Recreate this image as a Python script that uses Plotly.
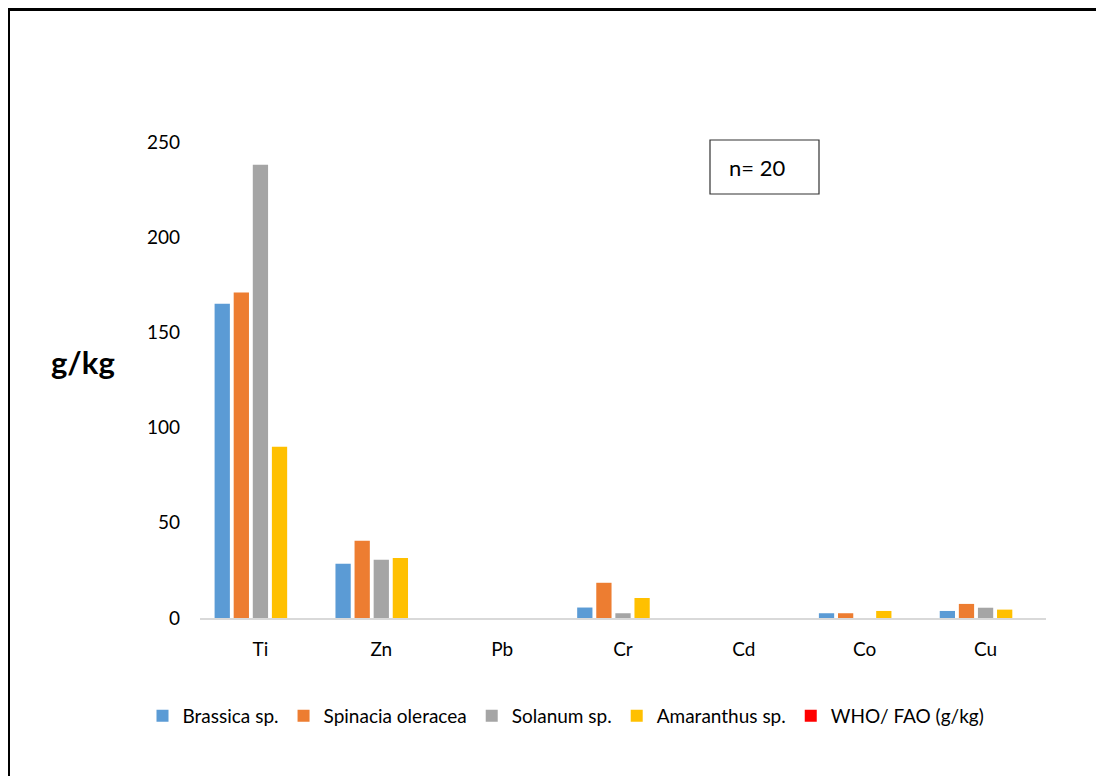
import plotly.graph_objects as go

categories = ["Ti", "Zn", "Pb", "Cr", "Cd", "Co", "Cu"]
brassica = [165, 28.5, 0, 5.5, 0, 2.5, 3.7]
spinacia = [171, 40.6, 0, 18.5, 0, 2.5, 7.4]
solanum = [238, 30.6, 0, 2.5, 0, 0, 5.4]
amaranthus = [90, 31.5, 0, 10.5, 0, 3.7, 4.4]
who_fao = [0, 0, 0, 0, 0, 0, 0]
y_ticks = [0, 50, 100, 150, 200, 250]

series = [
    ("Brassica sp.", brassica, "#5B9BD5"),
    ("Spinacia oleracea", spinacia, "#ED7D31"),
    ("Solanum sp.", solanum, "#A5A5A5"),
    ("Amaranthus sp.", amaranthus, "#FFC000"),
    ("WHO/ FAO (g/kg)", who_fao, "#FF0000"),
]

FONT = "Lato, Carlito, 'Liberation Sans', sans-serif"
OFF = 8  # page body offset

fig = go.Figure()
for name, vals, col in series:
    fig.add_trace(go.Bar(name=name, x=categories, y=vals, marker_color=col,
                         marker_line_width=0))

W, H = 1104, 776
L, R = 200 - OFF, W - (1046 - OFF)
T, B = 142 - OFF, H - (618 - OFF)
pw, ph = W - L - R, H - T - B

def px(x):
    return (x - OFF - L) / pw

def py(y):
    return (H - B - (y - OFF)) / ph

fig.update_layout(
    width=W, height=H,
    margin=dict(l=L, r=R, t=T, b=B),
    paper_bgcolor="white", plot_bgcolor="white",
    barmode="group", bargap=0.21, bargroupgap=0.2,
    font=dict(family=FONT, size=19, color="#000000"),
    showlegend=True,
    legend=dict(orientation="h", xref="container", yref="container",
                x=(566 - OFF) / W, xanchor="center",
                y=(H - (716 - OFF)) / H, yanchor="middle",
                font=dict(size=19, family=FONT), itemsizing="constant",
                traceorder="normal", itemwidth=30),
    xaxis=dict(showline=True, linecolor="#D9D9D9", linewidth=1.5, showgrid=False,
               ticks="", ticklabelstandoff=13, tickfont=dict(size=19)),
    yaxis=dict(range=[0, 250], tickvals=y_ticks, showgrid=False, zeroline=False,
               showline=False, ticks="", ticklabelstandoff=19, tickfont=dict(size=19)),
    shapes=[
        dict(type="rect", xref="paper", yref="paper",
             x0=px(8.5), x1=px(1125), y0=py(800), y1=py(9.5),
             line=dict(color="black", width=3), fillcolor="rgba(0,0,0,0)"),
        dict(type="rect", xref="paper", yref="paper",
             x0=px(710), x1=px(819), y0=py(194), y1=py(140),
             line=dict(color="#333333", width=1.2), fillcolor="white"),
    ],
    annotations=[
        dict(text="<b>g/kg</b>", xref="paper", yref="paper", x=px(83), y=py(362),
             showarrow=False, font=dict(size=31, family=FONT, color="black"),
             xanchor="center", yanchor="middle"),
        dict(text="n= 20", xref="paper", yref="paper", x=px(757), y=py(167),
             showarrow=False, font=dict(size=22, family=FONT, color="black"),
             xanchor="center", yanchor="middle"),
    ],
)

fig.write_html("out.html")
